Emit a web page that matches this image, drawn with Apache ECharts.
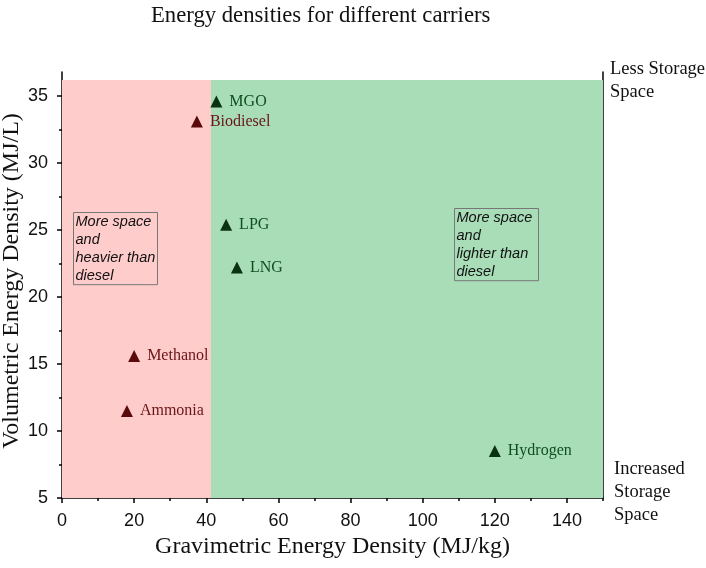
<!DOCTYPE html>
<html lang="en">
<head>
    <meta charset="UTF-8">
    <title>Energy densities</title>
    <script src="https://cdn.jsdelivr.net/npm/echarts@6/dist/echarts.min.js"></script>
    <style>
        html, body { margin: 0; padding: 0; background: #fff; }
        #main { width: 706px; height: 568px; }
    </style>
</head>
<body>
<div id="main"></div>
<script>
    // carriers
    let carrierNames = ['MGO', 'Biodiesel', 'LPG', 'LNG', 'Methanol', 'Ammonia', 'Hydrogen'];
    let gravimetric = [42.8, 37.4, 45.5, 48.5, 20, 18, 120];      // MJ/kg
    let volumetric = [34.6, 33.1, 25.4, 22.2, 15.6, 11.5, 8.5];   // MJ/L
    let heavierThanDiesel = [false, true, false, false, true, true, false];

    // axis ticks
    let xMajorTicks = [0, 20, 40, 60, 80, 100, 120, 140];
    let xMinorTicks = [10, 30, 50, 70, 90, 110, 130, 150];
    let yMajorTicks = [5, 10, 15, 20, 25, 30, 35];
    let yMinorTicks = [7.5, 12.5, 17.5, 22.5, 27.5, 32.5];
    let rightTicks = [1, 2, 3, 4, 5, 6, 7, 8, 9];

    // shaded regions: [x from, x to, y from, y to]
    let heavyRegion = [0, 41.3, 5, 36.2];
    let lightRegion = [41.3, 150, 5, 36.2];

    let serif = '"Liberation Serif", "DejaVu Serif", serif';
    let sans = '"Liberation Sans", Arial, sans-serif';

    let redData = [];
    let greenData = [];
    for (let i = 0; i < carrierNames.length; i++) {
        let p = {name: carrierNames[i], value: [gravimetric[i], volumetric[i]]};
        if (heavierThanDiesel[i]) redData.push(p); else greenData.push(p);
    }

    let myChart = echarts.init(document.getElementById('main'), null, {renderer: 'canvas'});

    let option = {
        animation: false,
        title: {
            text: 'Energy densities for different carriers',
            left: 146,
            top: 0,
            textStyle: {fontFamily: serif, fontSize: 22.7, fontWeight: 'normal', color: '#111'}
        },
        grid: {left: 62, right: 103, top: 72, bottom: 70},
        xAxis: [
            {
                type: 'value', min: 0, max: 150, position: 'bottom',
                name: 'Gravimetric Energy Density (MJ/kg)',
                nameLocation: 'middle', nameGap: 37,
                nameTextStyle: {fontFamily: serif, fontSize: 24, color: '#111'},
                splitLine: {show: false},
                axisLine: {lineStyle: {color: '#000', width: 1.5}},
                axisTick: {customValues: xMajorTicks, length: 5, lineStyle: {color: '#000', width: 1.5}},
                axisLabel: {customValues: xMajorTicks, margin: 14, fontFamily: sans, fontSize: 18, color: '#111'}
            },
            {
                type: 'value', min: 0, max: 150, position: 'bottom',
                splitLine: {show: false},
                axisLine: {show: false},
                axisTick: {customValues: xMinorTicks, length: 3, lineStyle: {color: '#000', width: 1.5}},
                axisLabel: {show: false}
            }
        ],
        yAxis: [
            {
                type: 'value', min: 5, max: 36.8, position: 'left',
                splitLine: {show: false},
                axisLine: {lineStyle: {color: '#000', width: 1.5}},
                axisTick: {customValues: yMajorTicks, length: 5, lineStyle: {color: '#000', width: 1.5}},
                axisLabel: {customValues: yMajorTicks, margin: 14, fontFamily: sans, fontSize: 18, color: '#111'}
            },
            {
                type: 'value', min: 5, max: 36.8, position: 'left',
                splitLine: {show: false},
                axisLine: {show: false},
                axisTick: {customValues: yMinorTicks, length: 3, lineStyle: {color: '#000', width: 1.5}},
                axisLabel: {show: false}
            },
            {
                type: 'value', min: 0, max: 9.77, position: 'right',
                splitLine: {show: false},
                axisLine: {show: true, lineStyle: {color: '#000', width: 1.5}},
                axisTick: {customValues: rightTicks, inside: true, length: 9, lineStyle: {color: '#000', width: 1.5}},
                axisLabel: {show: false}
            }
        ],
        series: [
            {
                type: 'scatter',
                name: 'regions',
                data: [],
                silent: true,
                markArea: {
                    silent: true,
                    label: {show: false},
                    data: [
                        [{xAxis: heavyRegion[0], yAxis: heavyRegion[2], itemStyle: {color: '#FFCCCC', opacity: 1}},
                         {xAxis: heavyRegion[1], yAxis: heavyRegion[3]}],
                        [{xAxis: lightRegion[0], yAxis: lightRegion[2], itemStyle: {color: '#A8DDB8', opacity: 1}},
                         {xAxis: lightRegion[1], yAxis: lightRegion[3]}]
                    ]
                }
            },
            {
                type: 'scatter',
                name: 'heavier',
                symbol: 'triangle',
                symbolSize: 12,
                itemStyle: {color: '#5A0A0A', opacity: 1},
                label: {
                    show: true, position: 'right', distance: 7,
                    formatter: '{b}',
                    fontFamily: serif, fontSize: 16, color: '#6A1414'
                },
                data: redData,
                z: 5
            },
            {
                type: 'scatter',
                name: 'lighter',
                symbol: 'triangle',
                symbolSize: 12,
                itemStyle: {color: '#0A3312', opacity: 1},
                label: {
                    show: true, position: 'right', distance: 7,
                    formatter: '{b}',
                    fontFamily: serif, fontSize: 16, color: '#0F4F1E'
                },
                data: greenData,
                z: 5
            }
        ],
        graphic: [
            {
                type: 'text', x: 12, y: 281, rotation: Math.PI / 2,
                style: {
                    text: 'Volumetric Energy Density (MJ/L)',
                    font: '24px ' + serif, fill: '#111',
                    align: 'center', verticalAlign: 'middle'
                }
            },
            {
                type: 'text', left: 73, top: 212, z: 10,
                style: {
                    text: 'More space\nand\nheavier than\ndiesel',
                    font: 'italic 14.5px ' + sans, fill: '#111', lineHeight: 17.8,
                    borderColor: '#777', borderWidth: 1, padding: [1, 1, 0, 2],
                    width: 81, overflow: 'none'
                }
            },
            {
                type: 'text', left: 454, top: 208, z: 10,
                style: {
                    text: 'More space\nand\nlighter than\ndiesel',
                    font: 'italic 14.5px ' + sans, fill: '#111', lineHeight: 17.8,
                    borderColor: '#777', borderWidth: 1, padding: [1, 1, 0, 2],
                    width: 81, overflow: 'none'
                }
            },
            {
                type: 'text', left: 610, top: 58,
                style: {text: 'Less Storage\nSpace', font: '18.5px ' + serif, fill: '#111', lineHeight: 23}
            },
            {
                type: 'text', left: 614, top: 458,
                style: {text: 'Increased\nStorage\nSpace', font: '18.5px ' + serif, fill: '#111', lineHeight: 23}
            }
        ]
    };

    myChart.setOption(option);
</script>
</body>
</html>
